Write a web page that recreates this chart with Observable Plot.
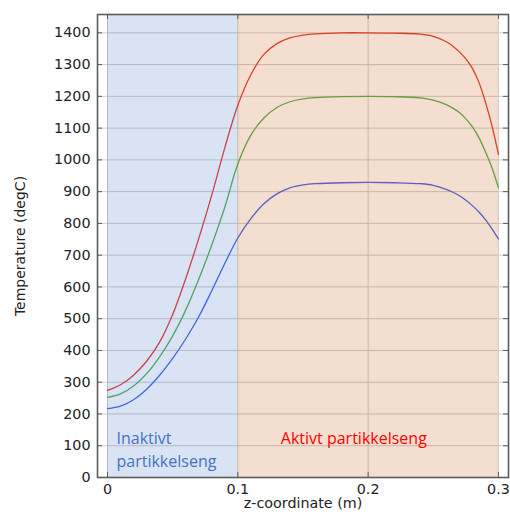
<!DOCTYPE html>
<html><head><meta charset="utf-8">
<script src="https://cdn.jsdelivr.net/npm/d3@7"></script>
<script src="https://cdn.jsdelivr.net/npm/@observablehq/plot@0.6"></script>
<style>body{margin:0;background:#fff} #chart svg{display:block}</style>
</head><body><div id="chart"></div>
<script>
// z-coordinate (m)
const zCoord = [0, 0.01, 0.02, 0.03, 0.04, 0.05, 0.06, 0.07, 0.08, 0.09, 0.1, 0.11, 0.12, 0.13, 0.14, 0.15, 0.16, 0.18, 0.2, 0.22, 0.24, 0.25, 0.26, 0.265, 0.27, 0.275, 0.28, 0.285, 0.29, 0.295, 0.3];
// Temperature (degC), three curves
const tempHigh = [274, 292, 322, 366, 426, 513, 626, 752, 889, 1038, 1172, 1268, 1332, 1366, 1384, 1393, 1397, 1400, 1400, 1399, 1396, 1389, 1372, 1358, 1340, 1318, 1288, 1244, 1182, 1108, 1017];
const tempMid  = [252, 263, 288, 327, 380, 446, 527, 624, 732, 851, 987, 1078, 1132, 1165, 1183, 1192, 1196, 1199, 1200, 1199, 1195, 1188, 1174, 1163, 1149, 1129, 1104, 1070, 1025, 975, 912];
const tempLow  = [217, 225, 245, 278, 322, 375, 436, 506, 588, 674, 754, 815, 862, 893, 912, 921, 925, 928, 929, 928, 925, 920, 907, 898, 887, 873, 856, 836, 812, 783, 751];

const xTicks = [0, 0.1, 0.2, 0.3];
const yTicks = [0, 100, 200, 300, 400, 500, 600, 700, 800, 900, 1000, 1100, 1200, 1300, 1400];
const xLabel = "z-coordinate (m)";
const yLabel = "Temperature (degC)";

const zoneStart = [0, 0.1];
const zoneEnd = [0.1, 0.3];
const zoneLabels = ["Inaktivt\npartikkelseng", "Aktivt partikkelseng"];

const rows = [];
zCoord.forEach((z, i) => {
  rows.push({z, T: tempHigh[i], s: "high"});
  rows.push({z, T: tempMid[i], s: "mid"});
  rows.push({z, T: tempLow[i], s: "low"});
});
const zones = zoneStart.map((s, i) => ({x1: s, x2: zoneEnd[i], label: zoneLabels[i]}));

const W = 510, H = 516, mL = 97, mR = 2, mT = 14, mB = 39;
const innerW = W - mL - mR, innerH = H - mT - mB;
const xDom = [-0.00767, 0.3077], yDom = [0, 1457.7];
const lineColors = {high: "#e5392c", mid: "#52b04b", low: "#3f62ee"};
const tickLen = 5, axisColor = "#5c5c5c";
const axisFont = 14.3;

const chart = Plot.plot({
  width: W, height: H,
  marginLeft: mL, marginRight: mR, marginTop: mT, marginBottom: mB,
  style: {fontFamily: "DejaVu Sans", fontSize: axisFont + "px", color: "#222", background: "#fff"},
  x: {domain: xDom},
  y: {domain: yDom},
  marks: [
    Plot.gridY(yTicks, {stroke: "#cdcdcd", strokeOpacity: 1}),
    Plot.gridX(xTicks, {stroke: "#cdcdcd", strokeOpacity: 1}),
    Plot.line(rows, {x: "z", y: "T", z: "s", stroke: d => lineColors[d.s], strokeWidth: 1.3, curve: "catmull-rom"}),
    Plot.rect([zones[0]], {x1: "x1", x2: "x2", fill: "#4472c4", fillOpacity: 0.2}),
    Plot.rect([zones[1]], {x1: "x1", x2: "x2", fill: "#c55a11", fillOpacity: 0.2}),
    Plot.tickY(yTicks, {y: d => d, insetRight: innerW - tickLen, stroke: axisColor}),
    Plot.tickY(yTicks, {y: d => d, insetLeft: innerW - tickLen, stroke: axisColor}),
    Plot.tickX(xTicks, {x: d => d, insetTop: innerH - tickLen, stroke: axisColor}),
    Plot.tickX(xTicks, {x: d => d, insetBottom: innerH - tickLen, stroke: axisColor}),
    Plot.frame({stroke: axisColor, strokeWidth: 1.6}),
    Plot.axisY(yTicks, {anchor: "left", tickSize: 0, tickPadding: 7, tickFormat: d => String(d), label: null, fontSize: axisFont}),
    Plot.axisX(xTicks, {anchor: "bottom", tickSize: 0, tickPadding: 6, tickFormat: d => String(d), label: null, fontSize: axisFont}),
    Plot.text([yLabel], {text: d => d, frameAnchor: "left", dx: -77, rotate: -90, textAnchor: "middle", fontSize: 14, fill: "#222"}),
    Plot.text([xLabel], {text: d => d, frameAnchor: "bottom", dy: 30, textAnchor: "middle", fontSize: axisFont, fill: "#222"}),
    Plot.text([zones[0]], {x: "x1", text: "label", frameAnchor: "bottom", textAnchor: "start", lineAnchor: "bottom",
      dx: 9, dy: -11, fill: "#4472c4", fontFamily: "Open Sans", fontSize: 16, lineHeight: 1.4}),
    Plot.text([zones[1]], {x: "x1", text: "label", frameAnchor: "bottom", textAnchor: "start", lineAnchor: "bottom",
      dx: 43, dy: -34, fill: "#ff0000", fontFamily: "Open Sans", fontSize: 16})
  ]
});
document.getElementById("chart").appendChild(chart);
</script>
</body></html>
